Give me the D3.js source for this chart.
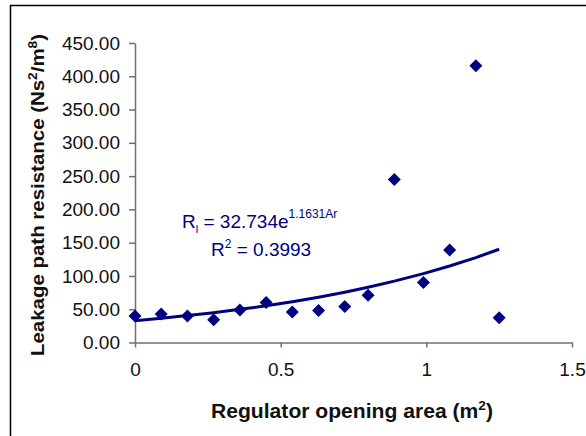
<!DOCTYPE html>
<html><head><meta charset="utf-8">
<script src="https://cdn.jsdelivr.net/npm/d3@7"></script>
<style>body{margin:0;background:#fff}svg{display:block}text{font-family:"Liberation Sans",Arial,sans-serif}</style>
</head><body><svg id="c" width="586" height="436"></svg>
<script>
const areas = [0, 0.09, 0.18, 0.27, 0.36, 0.45, 0.54, 0.63, 0.72, 0.80, 0.89, 0.99, 1.08, 1.17, 1.25];
const resistance = [40, 43, 40, 34, 49, 60, 46, 48, 54, 71, 245, 90, 139, 416, 37];
const trendValues = [32.7, 36.3, 40.4, 44.8, 49.8, 55.2, 61.3, 68.1, 75.6, 83.0, 92.2, 103.5, 115.0, 127.6, 140.1];
const xTicks = [0, 0.5, 1, 1.5];
const yTicks = [0, 50, 100, 150, 200, 250, 300, 350, 400, 450];

const svg = d3.select("#c");
const navy = "#000080", axisCol = "#707070";

svg.append("rect").attr("x", 10.5).attr("y", 5.5).attr("width", 600).attr("height", 460)
  .attr("fill", "#fff").attr("stroke", "#000").attr("stroke-width", 1.5);

const x = d3.scaleLinear().domain([0, 1.5]).range([135, 572]);
const y = d3.scaleLinear().domain([0, 450]).range([342.5, 43]);

const gy = svg.append("g").attr("transform", `translate(${x(0)},0)`)
  .call(d3.axisLeft(y).tickValues(yTicks).tickFormat(d3.format(".2f")).tickSize(6).tickPadding(9).tickSizeOuter(0));
const gx = svg.append("g").attr("transform", `translate(0,${y(0)})`)
  .call(d3.axisBottom(x).tickValues(xTicks).tickFormat(d => d3.format("")(d)).tickSize(5).tickPadding(15).tickSizeOuter(0));
[gx, gy].forEach(g => {
  g.select(".domain").attr("stroke", axisCol).attr("stroke-width", 1.5);
  g.selectAll(".tick line").attr("stroke", axisCol).attr("stroke-width", 1.5);
  g.selectAll(".tick text").attr("fill", "#111").style("font-size", "19px").style("font-family", '"Liberation Sans",Arial,sans-serif');
});

// trend line
const line = d3.line().x((d, i) => x(areas[i])).y(d => y(d));
svg.append("path").datum(trendValues).attr("d", line).attr("fill", "none")
  .attr("stroke", navy).attr("stroke-width", 3).attr("stroke-linejoin", "round");

// diamonds
const r = 6.5;
svg.append("g").selectAll("path").data(resistance).join("path")
  .attr("transform", (d, i) => `translate(${x(areas[i])},${y(d)})`)
  .attr("d", `M0,${-r}L${r},0L0,${r}L${-r},0Z`).attr("fill", navy);

// equation
const eq = svg.append("text").attr("x", 182).attr("y", 228).attr("fill", navy).style("font-size", "19px");
eq.append("tspan").text("R");
eq.append("tspan").attr("dy", 5).style("font-size", "11px").text("l");
eq.append("tspan").attr("dy", -5).text(" = 32.734e");
eq.append("tspan").attr("dy", -10).style("font-size", "12px").text("1.1631Ar");
const r2 = svg.append("text").attr("x", 211).attr("y", 256).attr("fill", navy).style("font-size", "19px");
r2.append("tspan").text("R");
r2.append("tspan").attr("dy", -8).style("font-size", "12px").text("2");
r2.append("tspan").attr("dy", 8).text(" = 0.3993");

// axis titles
const xt = svg.append("text").attr("x", 211).attr("y", 418).attr("fill", "#111")
  .style("font-size", "20px").style("font-weight", "bold")
  .attr("textLength", 282).attr("lengthAdjust", "spacingAndGlyphs");
xt.append("tspan").text("Regulator opening area (m");
xt.append("tspan").attr("dy", -8).style("font-size", "13px").text("2");
xt.append("tspan").attr("dy", 8).text(")");

const yt = svg.append("text").attr("transform", "translate(44,356) rotate(-90)").attr("fill", "#111")
  .style("font-size", "18px").style("font-weight", "bold")
  .attr("textLength", 322).attr("lengthAdjust", "spacingAndGlyphs");
yt.append("tspan").text("Leakage path resistance (Ns");
yt.append("tspan").attr("dy", -7).style("font-size", "12px").text("2");
yt.append("tspan").attr("dy", 7).text("/m");
yt.append("tspan").attr("dy", -7).style("font-size", "12px").text("8");
yt.append("tspan").attr("dy", 7).text(")");
</script></body></html>
